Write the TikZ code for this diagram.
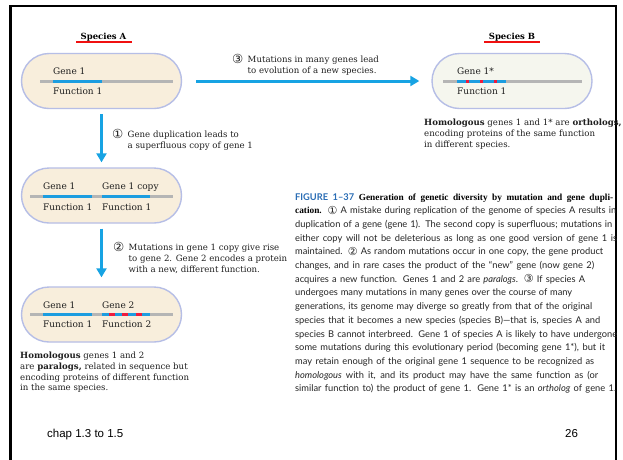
\documentclass[tikz,border=0pt]{standalone}
\usepackage{fontspec}
\setmainfont{DejaVu Serif}
\newfontfamily\capsans{Lato}
\newfontfamily\capserif{Liberation Serif}
\newfontfamily\slidesans{Liberation Sans}
\newfontfamily\circfont{DejaVu Sans}
\usetikzlibrary{shapes.misc,arrows.meta}
\definecolor{arrowblue}{HTML}{17A3E3}
\definecolor{genegray}{HTML}{B5B5B5}
\definecolor{geneblue}{HTML}{1C9DE0}
\definecolor{mutred}{HTML}{EE1C3C}
\definecolor{specred}{HTML}{F01010}
\definecolor{cellfillA}{HTML}{F8EEDC}
\definecolor{cellfillB}{HTML}{F5F6EE}
\definecolor{cellborder}{HTML}{B6BEE6}
\definecolor{figblue}{HTML}{2A6DB5}
\definecolor{captext}{HTML}{252525}
\newcommand{\cnum}[1]{{\circfont\fontsize{12.5}{10}\selectfont#1}}
\newcommand{\cnumbox}[1]{\makebox[15.5pt][l]{\raisebox{-0.6pt}{\cnum{#1}}}}
\newcommand{\capnum}[1]{{\circfont\fontsize{11}{9}\selectfont\raisebox{-0.5pt}{#1}}}
\begin{document}
\begin{tikzpicture}[x=1pt,y=-1pt,
  cellA/.style={rounded rectangle, draw=cellborder, line width=1.4pt, fill=cellfillA,
    minimum width=160pt, minimum height=55pt, inner sep=0pt},
  cellB/.style={cellA, fill=cellfillB},
  flow/.style={draw=arrowblue, line width=3pt, -{Triangle[length=9pt,width=10pt]}},
  genetxt/.style={anchor=base west, inner sep=0pt, text=black!88, font=\fontsize{9}{10}\selectfont},
  lbl/.style={anchor=north west, inner sep=0pt, align=left, text=black!88,
    font=\fontsize{8.6}{10.7}\selectfont},
  spec/.style={anchor=base, inner sep=0pt, font=\bfseries\fontsize{8.5}{10}\selectfont},
  gline/.style={line width=3pt, genegray},
  bline/.style={line width=3pt, geneblue},
  rline/.style={line width=3pt, mutred},
  capl/.style={anchor=base west, inner sep=0pt, text=captext, font=\capsans\fontsize{9.3}{10}\selectfont},
  slidetxt/.style={anchor=base west, inner sep=0pt, font=\slidesans\fontsize{11.5}{12}\selectfont}]
\useasboundingbox (0,0) rectangle (623,459);
\fill[white] (0,0) rectangle (623,459);
% slide frame
\draw[line width=2.3pt] (10.5,470) -- (10.5,6) -- (616,6) -- (616,470);

% species headers
\node[spec] (specA) at (103.5,39.5) {Species A};
\draw[specred, line width=1.6pt] (76,42) -- (132,42);
\node[spec] (specB) at (512,39.5) {Species B};
\draw[specred, line width=1.6pt] (484,42) -- (540,42);

% cells
\node[cellA] (A1) at (101.5,81) {};
\node[cellB] (B)  at (512,81) {};
\node[cellA] (A2) at (101.5,195.5) {};
\node[cellA] (A3) at (101.5,314.5) {};

% A1 contents
\draw[gline] (40,81) -- (173,81);
\draw[bline] (53,81) -- (102,81);
\node[genetxt] (a1g) at (53,74) {Gene 1};
\node[genetxt] (a1f) at (53,94) {Function 1};

% B contents
\draw[gline] (443,81) -- (582,81);
\draw[bline] (457,81) -- (506,81);
\draw[rline] (466,81) -- (468.5,81);
\draw[rline] (480,81) -- (482.5,81);
\draw[rline] (494,81) -- (496.5,81);
\node[genetxt] (bg) at (457,74) {Gene 1*};
\node[genetxt] (bf) at (457,94) {Function 1};

% A2 contents
\draw[gline] (30,196) -- (173,196);
\draw[bline] (43,196) -- (92,196);
\draw[bline] (102,196) -- (150,196);
\node[genetxt] (a2g1) at (43,189) {Gene 1};
\node[genetxt] (a2g2) at (102,189) {Gene 1 copy};
\node[genetxt] (a2f1) at (43,210) {Function 1};
\node[genetxt] (a2f2) at (102,210) {Function 1};

% A3 contents
\draw[gline] (30,314) -- (173,314);
\draw[bline] (43,314) -- (92,314);
\draw[bline] (102,314) -- (150,314);
\draw[rline] (109,314) -- (115,314);
\draw[rline] (122,314) -- (128,314);
\draw[rline] (136,314) -- (142,314);
\node[genetxt] (a3g1) at (43,308) {Gene 1};
\node[genetxt] (a3g2) at (102,308) {Gene 2};
\node[genetxt] (a3f1) at (43,327) {Function 1};
\node[genetxt] (a3f2) at (102,327) {Function 2};

% arrows
\draw[flow, shorten <=14pt, shorten >=12pt] (A1.east) -- (B.west);
\draw[flow, shorten <=5pt, shorten >=5pt] (A1.south) -- (A2.north);
\draw[flow, shorten <=5pt, shorten >=9pt] (A2.south) -- (A3.north);

% step labels
\node[lbl] (l3) at (232,54) {\cnumbox{③}Mutations in many genes lead\\\hspace*{15.5pt}to evolution of a new species.};
\node[lbl] (l1) at (112,129) {\cnumbox{①}Gene duplication leads to\\\hspace*{15.5pt}a superfluous copy of gene 1};
\node[lbl] (l2) at (113,242) {\cnumbox{②}Mutations in gene 1 copy give rise\\\hspace*{15.5pt}to gene 2. Gene 2 encodes a protein\\\hspace*{15.5pt}with a new, different function.};

% homology notes
\node[lbl] (hB) at (424,119) {\textbf{Homologous} genes 1 and 1* are \textbf{orthologs,}\\encoding proteins of the same function\\in different species.};
\node[lbl] (hA) at (20,352) {\textbf{Homologous} genes 1 and 2\\are \textbf{paralogs,} related in sequence but\\encoding proteins of different function\\in the same species.};

% caption
\node[capl] (c1) at (295,200) {\makebox[318pt][s]{{\color{figblue}\bfseries FIGURE 1–37} {\capserif\bfseries\color{black} Generation of genetic diversity by mutation and gene dupli-}}};
\node[capl] (c2) at (295,213.7) {\makebox[321pt][s]{{\capserif\bfseries\color{black} cation.} \capnum{①} A mistake during replication of the genome of species A results in}};
\node[capl] (c3) at (295,227.4) {\makebox[317pt][s]{duplication of a gene (gene 1). The second copy is superfluous; mutations in}};
\node[capl] (c4) at (295,241.1) {\makebox[322pt][s]{either copy will not be deleterious as long as one good version of gene 1 is}};
\node[capl] (c5) at (295,254.8) {\makebox[308pt][s]{maintained. \capnum{②} As random mutations occur in one copy, the gene product}};
\node[capl] (c6) at (295,268.5) {\makebox[299pt][s]{changes, and in rare cases the product of the “new” gene (now gene 2)}};
\node[capl] (c7) at (295,282.2) {\makebox[290pt][s]{acquires a new function. Genes 1 and 2 are \textit{paralogs}. \capnum{③} If species A}};
\node[capl] (c8) at (295,295.9) {\makebox[277pt][s]{undergoes many mutations in many genes over the course of many}};
\node[capl] (c9) at (295,309.6) {\makebox[297pt][s]{generations, its genome may diverge so greatly from that of the original}};
\node[capl] (c10) at (295,323.3) {\makebox[305pt][s]{species that it becomes a new species (species B)—that is, species A and}};
\node[capl] (c11) at (295,337) {\makebox[322pt][s]{species B cannot interbreed. Gene 1 of species A is likely to have undergone}};
\node[capl] (c12) at (295,350.7) {\makebox[310pt][s]{some mutations during this evolutionary period (becoming gene 1*), but it}};
\node[capl] (c13) at (295,364.4) {\makebox[299pt][s]{may retain enough of the original gene 1 sequence to be recognized as}};
\node[capl] (c14) at (295,378.1) {\makebox[303pt][s]{\textit{homologous} with it, and its product may have the same function as (or}};
\node[capl] (c15) at (295,391.8) {\makebox[321pt][s]{similar function to) the product of gene 1. Gene 1* is an \textit{ortholog} of gene 1.}};

% slide footer
\node[slidetxt] (chap) at (47,437) {chap 1.3 to 1.5};
\node[slidetxt] (pg) at (565,437) {26};
\end{tikzpicture}
\end{document}
